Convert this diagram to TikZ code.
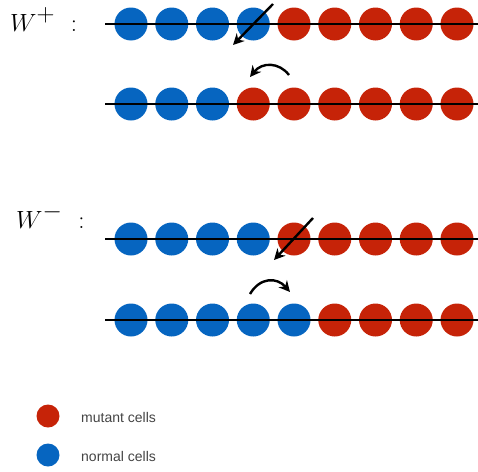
\documentclass[tikz,border=0pt]{standalone}
\usepackage{fontspec}
\newfontfamily\legendfont{Liberation Sans}
\usetikzlibrary{arrows.meta}
\definecolor{cellblue}{RGB}{6,101,192}
\definecolor{cellred}{RGB}{198,35,8}
\definecolor{legendgray}{RGB}{68,68,68}
\begin{document}
\begin{tikzpicture}[x=1pt,y=-1pt,
  cell/.style={circle,inner sep=0pt,minimum size=33pt},
  normal/.style={cell,fill=cellblue},
  mutant/.style={cell,fill=cellred},
  legcell/.style={minimum size=23pt},
  axis/.style={line width=1.1pt},
  move/.style={line width=2.4pt,-{Stealth[length=11pt,width=11pt]}},
  lab/.style={font=\fontsize{35}{42}\selectfont,anchor=base west,inner sep=0pt},
  legtext/.style={font=\legendfont\fontsize{14}{17}\selectfont,text=legendgray,anchor=base west,inner sep=0pt}]
\useasboundingbox (0,0) rectangle (478,471);
% labels
\node[lab] (wplus) at (10,31) {$W^{+}\hspace{9pt}:$};
\node[lab] (wminus) at (16,228) {$W^{-}\hspace{9pt}:$};
% rows of cells
\foreach \row/\y/\nb in {1/24/4, 2/104/3, 3/239/4, 4/320/5} {
  \foreach \i in {1,...,9} {
    \pgfmathsetmacro\xx{131+40.75*(\i-1)}
    \ifnum\i>\nb\def\st{mutant}\else\def\st{normal}\fi
    \node[\st] (c\row-\i) at (\xx,\y) {};
  }
  \coordinate (l\row) at (105,\y);
  \coordinate (r\row) at (478,\y);
  \draw[axis] (l\row) -- (r\row);
}
% arrows
\coordinate (a1s) at (273,4);
\coordinate (a1e) at (233,45);
\draw[move] (a1s) -- (a1e);
\coordinate (a2s) at (289,75);
\coordinate (a2e) at (250,77);
\draw[move] (a2s) .. controls (279,62) and (262,62) .. (a2e);
\coordinate (a3s) at (313,218);
\coordinate (a3e) at (274,260);
\draw[move] (a3s) -- (a3e);
\coordinate (a4s) at (250,294);
\coordinate (a4e) at (290,292);
\draw[move] (a4s) .. controls (260,277) and (277,277) .. (a4e);
% legend
\node[mutant,legcell] (legm) at (48,416) {};
\node[legtext] (legmt) at (81,422) {mutant cells};
\node[normal,legcell] (legn) at (48,455) {};
\node[legtext] (legnt) at (81,461) {normal cells};
\end{tikzpicture}
\end{document}
